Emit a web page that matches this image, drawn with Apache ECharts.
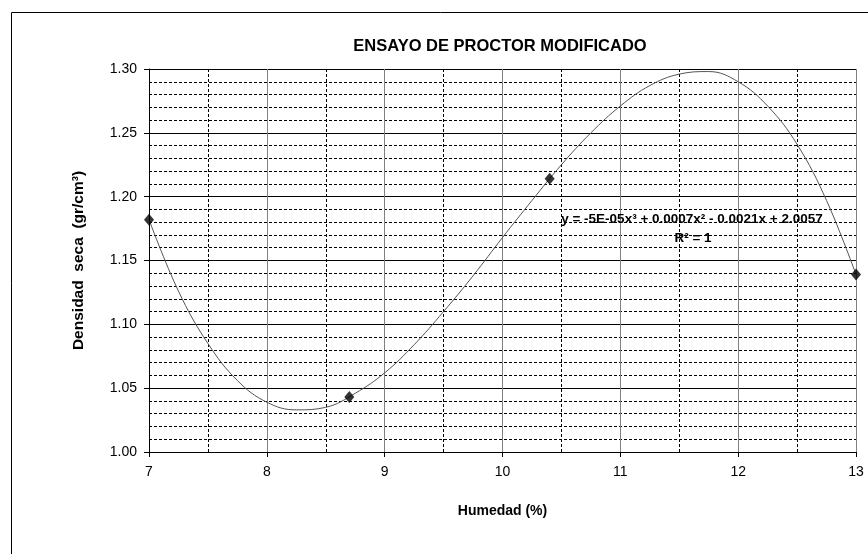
<!DOCTYPE html>
<html>
<head>
<meta charset="utf-8">
<script src="https://cdn.jsdelivr.net/npm/echarts@6/dist/echarts.min.js"></script>
<style>
  html, body { margin: 0; padding: 0; background: #fff; }
  #chart { width: 868px; height: 554px; }
</style>
</head>
<body>
<div id="chart"></div>
<script>
// Ensayo Proctor: measured points (humedad %, densidad seca gr/cm3)
const humedad = [7.0, 8.7, 10.4, 13.0];
const densidad = [1.182, 1.043, 1.214, 1.139];

// Polynomial trend line, sampled every 0.25 % of humidity
const curvaX = [7.0, 7.25, 7.5, 7.75, 8.0, 8.25, 8.5, 8.75, 9.0, 9.25, 9.5, 9.75,
                10.0, 10.25, 10.5, 10.75, 11.0, 11.25, 11.5, 11.75, 12.0, 12.25, 12.5, 12.75, 13.0];
const curvaY = [1.182, 1.126, 1.085, 1.056, 1.039, 1.033, 1.035, 1.046, 1.062, 1.084, 1.110, 1.138,
                1.168, 1.197, 1.225, 1.250, 1.271, 1.287, 1.296, 1.298, 1.290, 1.271, 1.241, 1.197, 1.139];

const titulo = 'ENSAYO DE PROCTOR MODIFICADO';
const ecuacion = 'y = -5E-05x³ + 0.0007x² - 0.0021x + 2.0057';
const r2 = 'R² = 1';

const FONT = '"Liberation Sans Narrow", "Arial Narrow", "Liberation Sans", Arial, sans-serif';

const chart = echarts.init(document.getElementById('chart'), null, { renderer: 'canvas' });

chart.setOption({
  animation: false,
  backgroundColor: '#ffffff',
  textStyle: { fontFamily: FONT },
  title: {
    text: titulo,
    left: 495,
    top: 33,
    textAlign: 'center',
    textStyle: { fontFamily: FONT, fontSize: 16.5, fontWeight: 'bold', color: '#000' }
  },
  grid: { left: 149, right: 12, top: 69, bottom: 102, containLabel: false },
  xAxis: {
    type: 'value',
    min: 7, max: 13, interval: 1,
    name: 'Humedad (%)',
    nameLocation: 'middle',
    nameGap: 52,
    nameTextStyle: { fontFamily: FONT, fontSize: 14, fontWeight: 'bold', color: '#000' },
    axisLine: { show: true, onZero: false, lineStyle: { color: '#000', width: 1 } },
    axisTick: { show: true, length: 5, lineStyle: { color: '#000' } },
    axisLabel: { fontFamily: FONT, fontSize: 14, color: '#000', margin: 13 },
    splitLine: { show: true, lineStyle: { color: '#808080', width: 1, type: 'solid' } },
    minorTick: { show: false, splitNumber: 2 },
    minorSplitLine: { show: true, lineStyle: { color: '#000', width: 1, type: [3, 2] } }
  },
  yAxis: {
    type: 'value',
    min: 1.0, max: 1.3, interval: 0.05,
    name: 'Densidad  seca  (gr/cm³)',
    nameLocation: 'middle',
    nameGap: 62,
    nameTextStyle: { fontFamily: FONT, fontSize: 15.5, fontWeight: 'bold', color: '#000' },
    axisLine: { show: true, onZero: false, lineStyle: { color: '#000', width: 1 } },
    axisTick: { show: true, length: 5, lineStyle: { color: '#000' } },
    axisLabel: {
      fontFamily: FONT, fontSize: 14, color: '#000', margin: 12,
      formatter: v => v.toFixed(2)
    },
    splitLine: { show: true, lineStyle: { color: '#000', width: 1, type: 'solid' } },
    minorTick: { show: false, splitNumber: 5 },
    minorSplitLine: { show: true, lineStyle: { color: '#000', width: 1, type: [3, 2] } }
  },
  graphic: [
    {
      type: 'rect',
      shape: { x: 11.5, y: 12.5, width: 900, height: 600 },
      style: { fill: 'none', stroke: '#000', lineWidth: 1 },
      silent: true
    },
    {
      type: 'text',
      x: 692, y: 219,
      style: {
        text: ecuacion, fill: '#000', align: 'center', verticalAlign: 'middle',
        font: 'bold 13.5px ' + FONT
      },
      z: 10
    },
    {
      type: 'text',
      x: 693, y: 238,
      style: {
        text: r2, fill: '#000', align: 'center', verticalAlign: 'middle',
        font: 'bold 13.5px ' + FONT
      },
      z: 10
    }
  ],
  series: [
    {
      name: 'Tendencia',
      type: 'line',
      data: curvaX.map((x, i) => [x, curvaY[i]]),
      smooth: 0.4,
      showSymbol: false,
      symbol: 'none',
      lineStyle: { color: '#555', width: 1 },
      z: 3
    },
    {
      name: 'Ensayo',
      type: 'scatter',
      data: humedad.map((x, i) => [x, densidad[i]]),
      symbol: 'diamond',
      symbolSize: [10, 12],
      itemStyle: { color: '#000' },
      z: 4
    }
  ]
});
</script>
</body>
</html>
